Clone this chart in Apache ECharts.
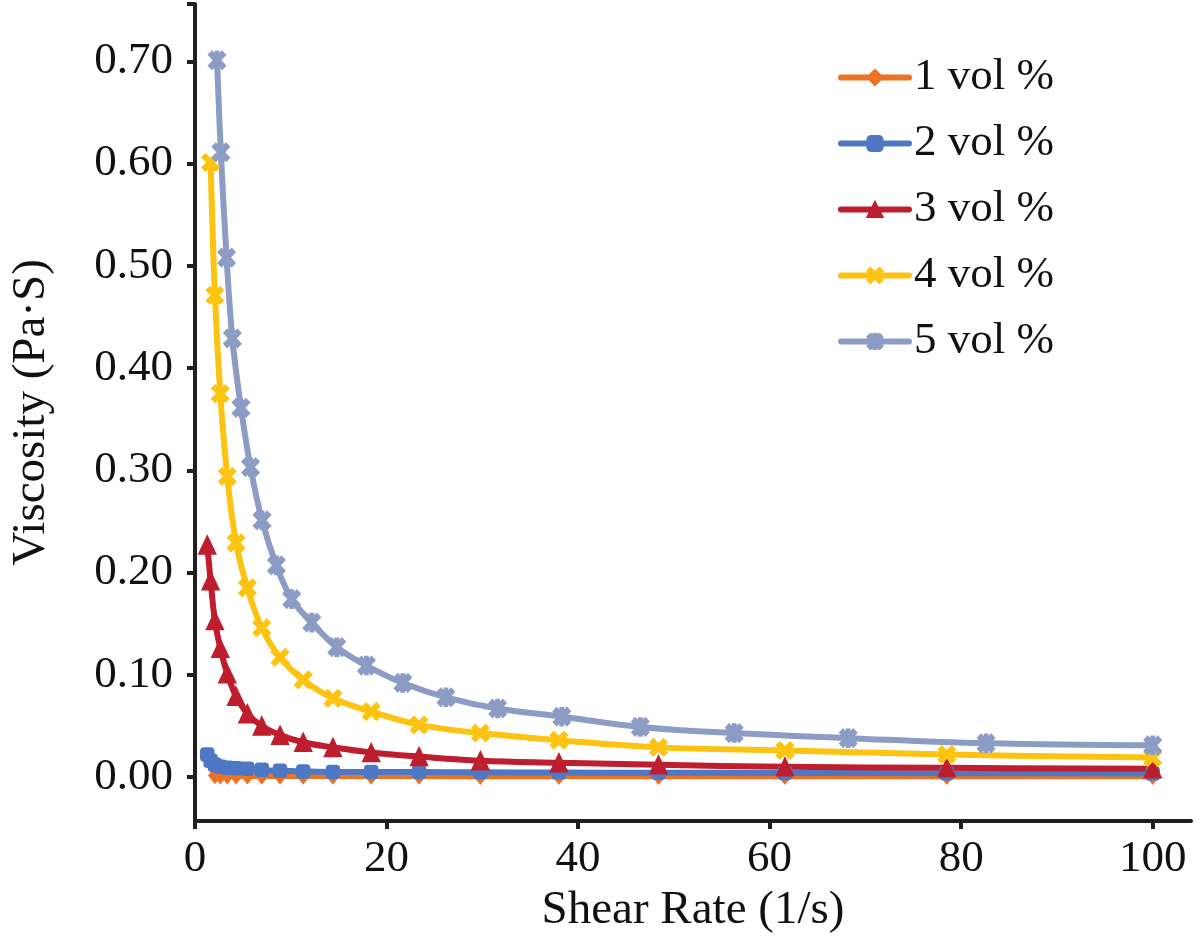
<!DOCTYPE html>
<html>
<head>
<meta charset="utf-8">
<title>Viscosity vs Shear Rate</title>
<script src="https://cdn.jsdelivr.net/npm/echarts@6/dist/echarts.min.js"></script>
<style>
  html, body { margin: 0; padding: 0; background: #fff; }
  #main { width: 1200px; height: 952px; }
</style>
</head>
<body>
<div id="main"></div>
<script>
// shear rates (1/s)
var shearA = [1.28, 1.63, 2.08, 2.64, 3.37, 4.29, 5.47, 6.97, 8.88, 11.3, 14.4, 18.4, 23.4, 29.8, 38.0, 48.4, 61.6, 78.5, 100];
var shearOrange = [2.08, 2.64, 3.37, 4.29, 5.47, 6.97, 8.88, 11.3, 14.4, 18.4, 23.4, 29.8, 38.0, 48.4, 61.6, 78.5, 100];
var shearYellow = [1.63, 2.08, 2.64, 3.37, 4.29, 5.47, 6.97, 8.88, 11.3, 14.4, 18.4, 23.4, 29.8, 38.0, 48.4, 61.6, 78.5, 100];
var shearGrey = [2.3, 2.7, 3.3, 3.9, 4.8, 5.8, 7.0, 8.5, 10.1, 12.2, 14.8, 17.9, 21.7, 26.2, 31.6, 38.3, 46.5, 56.3, 68.2, 82.6, 100];

// viscosity (Pa·S)
var vol1 = [0.0015, 0.0013, 0.0012, 0.0011, 0.0011, 0.0010, 0.0010, 0.0010, 0.0009, 0.0009, 0.0009, 0.0008, 0.0008, 0.0008, 0.0008, 0.0007, 0.0007];
var vol2 = [0.022, 0.016, 0.012, 0.010, 0.009, 0.0085, 0.008, 0.007, 0.0062, 0.0055, 0.005, 0.005, 0.0048, 0.0046, 0.0044, 0.0042, 0.004, 0.0037, 0.0034];
var vol3 = [0.227, 0.192, 0.153, 0.126, 0.101, 0.079, 0.062, 0.050, 0.041, 0.034, 0.029, 0.024, 0.020, 0.016, 0.014, 0.012, 0.010, 0.009, 0.008];
var vol4 = [0.601, 0.471, 0.375, 0.294, 0.229, 0.185, 0.146, 0.117, 0.095, 0.077, 0.064, 0.051, 0.043, 0.036, 0.029, 0.026, 0.022, 0.019];
var vol5 = [0.701, 0.611, 0.508, 0.429, 0.361, 0.303, 0.251, 0.207, 0.174, 0.151, 0.127, 0.109, 0.092, 0.078, 0.067, 0.059, 0.049, 0.043, 0.038, 0.033, 0.031];

var names = ['1 vol %', '2 vol %', '3 vol %', '4 vol %', '5 vol %'];
var xTicks = [0, 20, 40, 60, 80, 100];
var yTicks = [0, 0.1, 0.2, 0.3, 0.4, 0.5, 0.6, 0.7];

var FONT = '"Liberation Serif", "Times New Roman", serif';
var AXIS = '#231f20';

var crossSym = 'path://M2,0 L5,3 L8,0 L10,2 L7,5 L10,8 L8,10 L5,7 L2,10 L0,8 L3,5 L0,2 Z';
var starSym = 'path://M2,0 L5,3 L8,0 L10,2 L7,5 L10,8 L8,10 L5,7 L2,10 L0,8 L3,5 L0,2 Z M4,0 L6,0 L6,10 L4,10 Z';

function pairs(xs, ys) {
    var out = [];
    for (var i = 0; i < ys.length; i++) {
        out.push([xs[i], ys[i]]);
    }
    return out;
}

function line(name, xs, ys, color, symbol, size) {
    return {
        name: name,
        type: 'line',
        data: pairs(xs, ys),
        smooth: 0.4,
        symbol: symbol,
        symbolSize: size,
        showAllSymbol: true,
        lineStyle: { color: color, width: 6, cap: 'round', join: 'round' },
        itemStyle: { color: color, borderColor: color, borderWidth: 1.5 },
        emphasis: { disabled: true },
        animation: false
    };
}

var chart = echarts.init(document.getElementById('main'));

chart.setOption({
    backgroundColor: '#fff',
    animation: false,
    grid: { left: 195, right: 9, top: 4, bottom: 131, containLabel: false },
    legend: {
        orient: 'vertical',
        left: 833,
        top: 50,
        itemWidth: 68,
        itemHeight: 19,
        itemGap: 21,
        lineStyle: { width: 6 },
        textStyle: { fontFamily: FONT, fontSize: 45, color: '#111' },
        data: names
    },
    xAxis: {
        type: 'value',
        min: 0,
        max: 104,
        name: 'Shear Rate (1/s)',
        nameLocation: 'middle',
        nameGap: 64,
        nameTextStyle: { fontFamily: FONT, fontSize: 47, color: '#111' },
        axisLine: { show: true, onZero: false, lineStyle: { color: AXIS, width: 4 } },
        axisTick: { show: true, customValues: xTicks, length: 8, lineStyle: { color: AXIS, width: 4 } },
        axisLabel: { customValues: xTicks, margin: 16, fontFamily: FONT, fontSize: 45, color: '#111' },
        splitLine: { show: false }
    },
    yAxis: {
        type: 'value',
        min: -0.043,
        max: 0.756,
        name: 'Viscosity (Pa·S)',
        nameLocation: 'middle',
        nameGap: 140,
        nameTextStyle: { fontFamily: FONT, fontSize: 47, color: '#111' },
        axisLine: { show: true, onZero: false, lineStyle: { color: AXIS, width: 4 } },
        axisTick: { show: true, customValues: yTicks.concat([0.756]), length: 8, lineStyle: { color: AXIS, width: 4 } },
        axisLabel: {
            customValues: yTicks,
            margin: 22,
            fontFamily: FONT,
            fontSize: 45,
            color: '#111',
            formatter: function (v) { return v.toFixed(2); }
        },
        splitLine: { show: false }
    },
    series: [
        line(names[0], shearOrange, vol1, '#ee7224', 'diamond', [12, 15]),
        line(names[1], shearA, vol2, '#4e78c4', 'roundRect', 13),
        line(names[2], shearA, vol3, '#be1e2d', 'triangle', [17, 18]),
        line(names[3], shearYellow, vol4, '#fdc311', crossSym, 17),
        line(names[4], shearGrey, vol5, '#8c9cc4', starSym, [17, 18])
    ]
});
</script>
</body>
</html>
